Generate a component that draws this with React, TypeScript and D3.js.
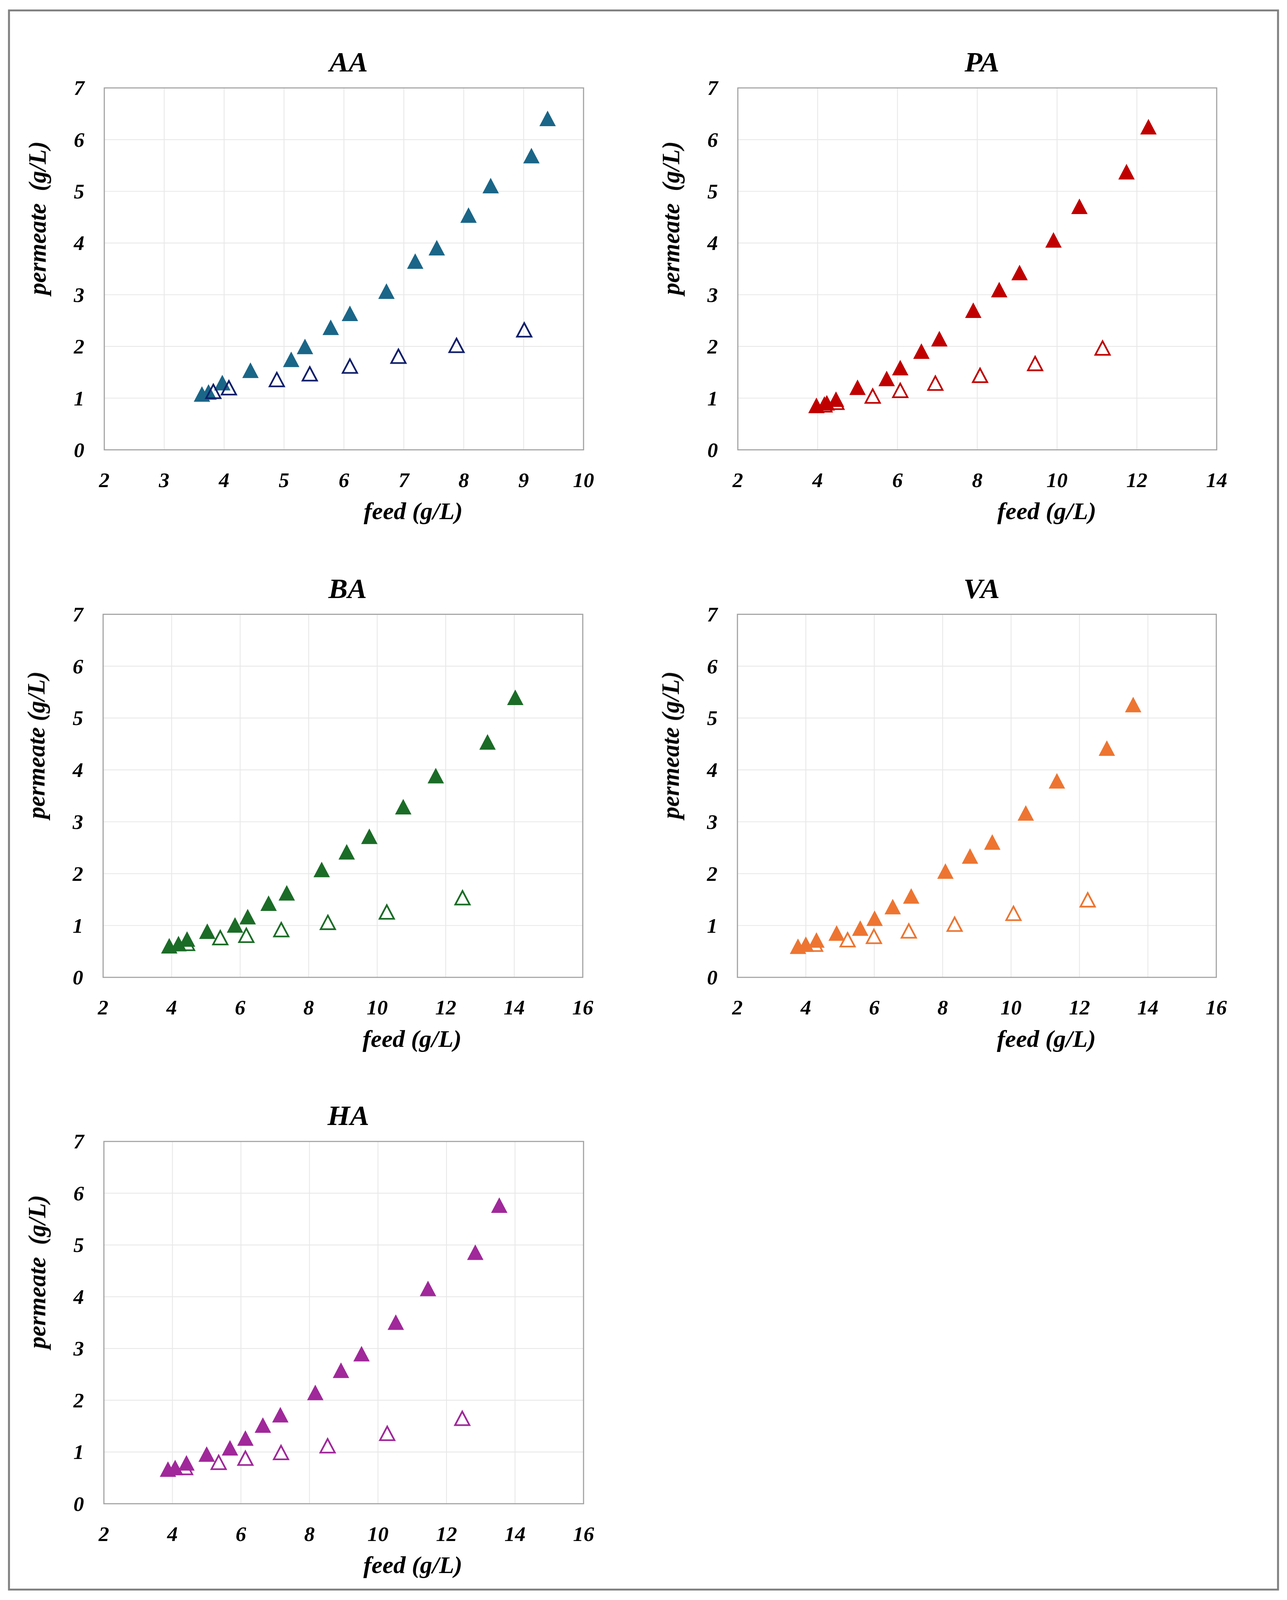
import * as d3 from 'd3';
import { useRef, useEffect } from 'react';

// feed (x) and permeate (y) concentrations, g/L
const aaFilledFeed = [3.63, 3.74, 3.97, 4.44, 5.12, 5.35, 5.78, 6.10, 6.71, 7.19, 7.55, 8.08, 8.45, 9.13, 9.40];
const aaFilledPerm = [1.08, 1.12, 1.30, 1.54, 1.75, 2.00, 2.37, 2.64, 3.07, 3.65, 3.91, 4.54, 5.11, 5.69, 6.41];
const aaOpenFeed = [3.82, 4.08, 4.88, 5.43, 6.10, 6.91, 7.88, 9.01];
const aaOpenPerm = [1.13, 1.20, 1.36, 1.47, 1.62, 1.81, 2.02, 2.32];

const paFilledFeed = [3.97, 4.23, 4.46, 5.00, 5.73, 6.07, 6.60, 7.05, 7.90, 8.55, 9.06, 9.91, 10.56, 11.74, 12.29];
const paFilledPerm = [0.86, 0.91, 0.98, 1.21, 1.38, 1.59, 1.91, 2.15, 2.70, 3.10, 3.43, 4.06, 4.71, 5.38, 6.25];
const paOpenFeed = [4.17, 4.47, 5.38, 6.07, 6.95, 8.07, 9.45, 11.14];
const paOpenPerm = [0.87, 0.92, 1.04, 1.15, 1.29, 1.44, 1.67, 1.97];

const baFilledFeed = [3.93, 4.20, 4.45, 5.04, 5.85, 6.22, 6.83, 7.36, 8.38, 9.11, 9.77, 10.76, 11.71, 13.22, 14.03];
const baFilledPerm = [0.61, 0.65, 0.74, 0.89, 1.01, 1.17, 1.43, 1.63, 2.08, 2.42, 2.72, 3.29, 3.89, 4.54, 5.40];
const baOpenFeed = [4.45, 5.42, 6.18, 7.20, 8.56, 10.28, 12.49];
const baOpenPerm = [0.655, 0.765, 0.81, 0.92, 1.06, 1.26, 1.535];

const vaFilledFeed = [3.77, 4.00, 4.31, 4.90, 5.59, 6.01, 6.54, 7.08, 8.08, 8.80, 9.45, 10.43, 11.34, 12.80, 13.57];
const vaFilledPerm = [0.60, 0.64, 0.72, 0.855, 0.95, 1.14, 1.365, 1.57, 2.05, 2.34, 2.61, 3.17, 3.79, 4.42, 5.26];
const vaOpenFeed = [4.27, 5.22, 5.99, 7.01, 8.35, 10.07, 12.24];
const vaOpenPerm = [0.64, 0.725, 0.79, 0.895, 1.025, 1.235, 1.495];

const haFilledFeed = [3.87, 4.08, 4.41, 5.00, 5.68, 6.13, 6.64, 7.15, 8.17, 8.92, 9.52, 10.52, 11.46, 12.84, 13.54];
const haFilledPerm = [0.67, 0.70, 0.79, 0.96, 1.08, 1.27, 1.52, 1.72, 2.15, 2.58, 2.90, 3.51, 4.16, 4.86, 5.77];
const haOpenFeed = [4.37, 5.35, 6.13, 7.17, 8.53, 10.27, 12.46];
const haOpenPerm = [0.70, 0.80, 0.88, 0.99, 1.12, 1.36, 1.65];

const yTicks = [0, 1, 2, 3, 4, 5, 6, 7];
const xTicksAA = [2, 3, 4, 5, 6, 7, 8, 9, 10];
const xTicksPA = [2, 4, 6, 8, 10, 12, 14];
const xTicksWide = [2, 4, 6, 8, 10, 12, 14, 16];

const W = 3295;
const H = 4222;
const FONT = '"Liberation Serif", "Times New Roman", serif';

type Panel = {
  title: string;
  yTitle: string;
  box: [number, number, number, number]; // left, top, right, bottom
  xTicks: number[];
  filled: [number[], number[]];
  open: [number[], number[]];
  fillColor: string;
  openColor: string;
  openOnTop: boolean;
};

const panels: Panel[] = [
  { title: 'AA', yTitle: 'permeate  (g/L)', box: [267, 232, 1494, 1187], xTicks: xTicksAA,
    filled: [aaFilledFeed, aaFilledPerm], open: [aaOpenFeed, aaOpenPerm],
    fillColor: '#1a6688', openColor: '#0f1f6b', openOnTop: true },
  { title: 'PA', yTitle: 'permeate  (g/L)', box: [1889, 232, 3115, 1187], xTicks: xTicksPA,
    filled: [paFilledFeed, paFilledPerm], open: [paOpenFeed, paOpenPerm],
    fillColor: '#c00000', openColor: '#c00000', openOnTop: false },
  { title: 'BA', yTitle: 'permeate (g/L)', box: [264, 1621, 1492, 2579], xTicks: xTicksWide,
    filled: [baFilledFeed, baFilledPerm], open: [baOpenFeed, baOpenPerm],
    fillColor: '#1b6c27', openColor: '#1b6c27', openOnTop: false },
  { title: 'VA', yTitle: 'permeate (g/L)', box: [1888, 1621, 3114, 2579], xTicks: xTicksWide,
    filled: [vaFilledFeed, vaFilledPerm], open: [vaOpenFeed, vaOpenPerm],
    fillColor: '#ed7531', openColor: '#ed7531', openOnTop: false },
  { title: 'HA', yTitle: 'permeate  (g/L)', box: [266, 3012, 1494, 3968], xTicks: xTicksWide,
    filled: [haFilledFeed, haFilledPerm], open: [haOpenFeed, haOpenPerm],
    fillColor: '#a0289a', openColor: '#a0289a', openOnTop: false },
];

const triangle = (w: number, h: number) =>
  `M0,${-h / 2}L${w / 2},${h / 2}L${-w / 2},${h / 2}Z`;

const App = () => {
  const svgRef = useRef<SVGSVGElement | null>(null);

  useEffect(() => {
    const svg = d3.select(svgRef.current);
    svg.selectAll('*').remove();

    svg.append('rect').attr('width', W).attr('height', H).attr('fill', '#fff');
    svg.append('rect')
      .attr('x', 23).attr('y', 27.5)
      .attr('width', 3272 - 23).attr('height', 4194.5 - 27.5)
      .attr('fill', 'none').attr('stroke', '#808080').attr('stroke-width', 5);

    panels.forEach((p) => {
      const [left, top, right, bottom] = p.box;
      const xTicks = p.xTicks;
      const x = d3.scaleLinear().domain([xTicks[0], xTicks[xTicks.length - 1]]).range([left, right]);
      const y = d3.scaleLinear().domain([0, 7]).range([bottom, top]);
      const g = svg.append('g');

      // gridlines
      g.selectAll('.vgrid').data(xTicks.slice(1, -1)).enter().append('line')
        .attr('x1', (d) => x(d)).attr('x2', (d) => x(d))
        .attr('y1', top).attr('y2', bottom)
        .attr('stroke', '#e8e8e8').attr('stroke-width', 2.2);
      g.selectAll('.hgrid').data(yTicks.slice(1, -1)).enter().append('line')
        .attr('x1', left).attr('x2', right)
        .attr('y1', (d) => y(d)).attr('y2', (d) => y(d))
        .attr('stroke', '#e8e8e8').attr('stroke-width', 2.2);

      g.append('rect')
        .attr('x', left).attr('y', top)
        .attr('width', right - left).attr('height', bottom - top)
        .attr('fill', 'none').attr('stroke', '#a0a0a0').attr('stroke-width', 2.8);

      // tick labels
      g.selectAll('.xt').data(xTicks).enter().append('text')
        .attr('x', (d) => x(d)).attr('y', bottom + 79).attr('dy', '0.35em')
        .attr('text-anchor', 'middle')
        .attr('font-family', FONT).attr('font-size', 54)
        .attr('font-weight', 'bold').attr('font-style', 'italic')
        .attr('fill', '#000')
        .text((d) => d);
      g.selectAll('.yt').data(yTicks).enter().append('text')
        .attr('x', left - 51).attr('y', (d) => y(d)).attr('dy', '0.35em')
        .attr('text-anchor', 'end')
        .attr('font-family', FONT).attr('font-size', 54)
        .attr('font-weight', 'bold').attr('font-style', 'italic')
        .attr('fill', '#000')
        .text((d) => d);

      // titles
      g.append('text')
        .attr('x', (left + right) / 2 + 12).attr('y', top - 43)
        .attr('text-anchor', 'middle')
        .attr('font-family', FONT).attr('font-size', 74)
        .attr('font-weight', 'bold').attr('font-style', 'italic')
        .text(p.title);
      g.append('text')
        .attr('x', left + 791).attr('y', bottom + 183)
        .attr('text-anchor', 'middle')
        .attr('font-family', FONT).attr('font-size', 63)
        .attr('font-weight', 'bold').attr('font-style', 'italic')
        .text('feed (g/L)');
      g.append('text')
        .attr('transform', `translate(${left - 150},${(top + bottom) / 2 - 134}) rotate(-90)`)
        .attr('text-anchor', 'middle')
        .attr('font-family', FONT).attr('font-size', 64)
        .attr('font-weight', 'bold').attr('font-style', 'italic')
        .style('white-space', 'pre')
        .text(p.yTitle);

      const drawFilled = () => {
        const [fx, fy] = p.filled;
        g.append('g').selectAll('path').data(fx).enter().append('path')
          .attr('transform', (d, i) => `translate(${x(d)},${y(fy[i])})`)
          .attr('d', triangle(42, 41))
          .attr('fill', p.fillColor);
      };
      const drawOpen = () => {
        const [ox, oy] = p.open;
        g.append('g').selectAll('path').data(ox).enter().append('path')
          .attr('transform', (d, i) => `translate(${x(d)},${y(oy[i])})`)
          .attr('d', triangle(37, 36))
          .attr('fill', p.openOnTop ? 'none' : '#fff')
          .attr('stroke', p.openColor).attr('stroke-width', 4.4)
          .attr('stroke-linejoin', 'miter');
      };
      if (p.openOnTop) {
        drawFilled();
        drawOpen();
      } else {
        drawOpen();
        drawFilled();
      }
    });
  }, []);

  // the whole figure is scaled into the visible window so nothing is cut off
  return (
    <div style={{ position: 'fixed', left: 0, top: 0, width: '100vw', height: '100vh', overflow: 'hidden' }}>
      <svg
        ref={svgRef}
        viewBox={`0 0 ${W} ${H}`}
        preserveAspectRatio="none"
        style={{ display: 'block', width: '100%', height: '100%' }}
      />
    </div>
  );
};

export default App;
